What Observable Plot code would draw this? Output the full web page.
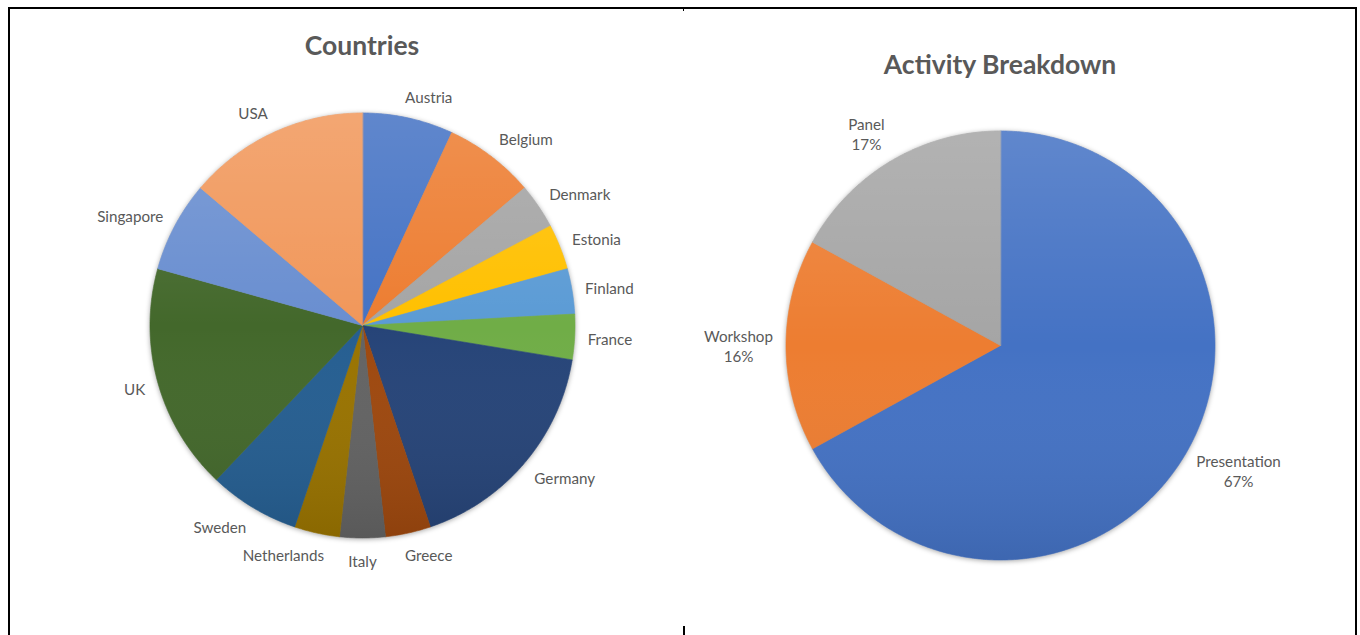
<!DOCTYPE html>
<html>
<head>
<meta charset="utf-8">
<script src="https://cdn.jsdelivr.net/npm/d3@7"></script>
<script src="https://cdn.jsdelivr.net/npm/@observablehq/plot@0.6"></script>
<style>
  body { margin: 0; background: #fff; }
  #wrap { position: relative; width: 1360px; height: 635px; overflow: hidden; background: #fff; font-family: Lato, "Open Sans", sans-serif; }
  .line { position: absolute; background: #000; }
  .title { position: absolute; width: 400px; text-align: center; font-weight: bold; font-size: 26.5px; line-height: 30px; color: #595959; font-family: Lato, sans-serif; }
  .chart { position: absolute; top: 80px; width: 680px; height: 555px; }
  .chart svg { display: block; }
</style>
</head>
<body>
<div id="wrap">
  <div class="line" style="left:8px;top:7px;width:1349px;height:2px"></div>
  <div class="line" style="left:8px;top:7px;width:2px;height:628px"></div>
  <div class="line" style="left:1355px;top:7px;width:2px;height:628px"></div>
  <div class="line" style="left:683px;top:9px;width:1px;height:2px"></div>
  <div class="line" style="left:683px;top:626px;width:2px;height:9px"></div>
  <div id="t1" class="title"></div>
  <div id="t2" class="title"></div>
  <div id="c1" class="chart" style="left:0px"></div>
  <div id="c2" class="chart" style="left:680px"></div>
</div>
<script>
// ---- data ----
const countryTitle = "Countries";
const countries = ["Austria", "Belgium", "Denmark", "Estonia", "Finland", "France", "Germany",
                   "Greece", "Italy", "Netherlands", "Sweden", "UK", "Singapore", "USA"];
const countryCounts = [2, 2, 1, 1, 1, 1, 5, 1, 1, 1, 2, 5, 2, 4];
const countryColors = ["#4472C4", "#ED7D31", "#A5A5A5", "#FFC000", "#5B9BD5", "#70AD47", "#264478",
                       "#9E480E", "#636363", "#997300", "#255E91", "#43682B", "#698ED0", "#F1975A"];

const activityTitle = "Activity Breakdown";
const activities = ["Presentation", "Workshop", "Panel"];
const activityShares = [67, 16, 17];
const activityColors = ["#4472C4", "#ED7D31", "#A5A5A5"];

// ---- helpers ----
const FS = 15.2;
const FONT = "Lato";
const ctx = document.createElement("canvas").getContext("2d");
ctx.font = `${FS}px ${FONT}`;

function pieSlices(names, values) {
  const total = d3.sum(values);
  let acc = 0;
  return names.map((name, i) => {
    const a0 = acc / total * 2 * Math.PI;
    acc += values[i];
    const a1 = acc / total * 2 * Math.PI;
    return {name, value: values[i], a0, a1, mid: (a0 + a1) / 2};
  });
}
function sliceFeature(s, R) {
  const pts = [[0, 0]];
  const n = Math.max(2, Math.ceil((s.a1 - s.a0) / (Math.PI / 360)));
  for (let k = 0; k <= n; k++) {
    const a = s.a0 + (s.a1 - s.a0) * k / n;
    pts.push([R * Math.sin(a), -R * Math.cos(a)]);
  }
  pts.push([0, 0]);
  return {type: "Feature", properties: {name: s.name}, geometry: {type: "Polygon", coordinates: [pts]}};
}
function circleFeature(R) {
  const pts = d3.range(0, 361, 1).map(d => [R * Math.sin(d * Math.PI / 180), -R * Math.cos(d * Math.PI / 180)]);
  return {type: "Feature", properties: {}, geometry: {type: "Polygon", coordinates: [pts]}};
}
function labelDatum(s, text, labelR) {
  const lines = text.split("\n");
  const w = d3.max(lines, t => ctx.measureText(t).width);
  const h = lines.length * FS * 1.2;
  const sx = Math.sin(s.mid), cy = Math.cos(s.mid);
  const fx = Math.max(-1, Math.min(1, 3.5 * sx));
  return {x: labelR * sx + w / 2 * fx, y: -labelR * cy - h / 2 * cy, text};
}

function drawPie({el, titleEl, title, titleLeft, titleTop, names, values, colors, labelText, cx, cy, R, id}) {
  const W = 680, H = 555;
  const slices = pieSlices(names, values);
  const features = slices.map(s => sliceFeature(s, R));
  const labels = slices.map((s, i) => labelDatum(s, labelText(s, i), R + 13));
  const domain = {type: "Polygon", coordinates: [[[-cx, -cy], [W - cx, -cy], [W - cx, H - cy], [-cx, H - cy], [-cx, -cy]]]};

  const svg = Plot.plot({
    width: W, height: H, margin: 0,
    projection: {type: "identity", domain},
    color: {domain: names, range: colors},
    marks: [
      Plot.geo(features, {fill: d => d.properties.name, stroke: d => d.properties.name, strokeWidth: 0.6}),
      Plot.geo([circleFeature(R)], {fill: `url(#${id})`, stroke: "none"}),
      Plot.text(labels, {x: "x", y: "y", text: "text", fill: "#595959", fontSize: FS, fontFamily: FONT,
                         textAnchor: "middle", lineAnchor: "middle", lineHeight: 1.32})
    ]
  });
  const s = d3.select(svg);
  const defs = s.insert("defs", ":first-child");
  const lg = defs.append("linearGradient").attr("id", id).attr("x1", 0).attr("y1", 0).attr("x2", 0).attr("y2", 1);
  lg.append("stop").attr("offset", 0).attr("stop-color", "#fff").attr("stop-opacity", 0.15);
  lg.append("stop").attr("offset", 0.5).attr("stop-color", "#fff").attr("stop-opacity", 0.0);
  lg.append("stop").attr("offset", 1).attr("stop-color", "#000").attr("stop-opacity", 0.1);
  s.select('g[aria-label="geo"]').style("filter", "drop-shadow(0px 1px 2.5px rgba(0,0,0,0.35))");
  el.appendChild(svg);

  titleEl.textContent = title;
  titleEl.style.left = titleLeft + "px";
  titleEl.style.top = titleTop + "px";
}

drawPie({
  el: document.getElementById("c1"), titleEl: document.getElementById("t1"),
  title: countryTitle, titleLeft: 362 - 200, titleTop: 30,
  names: countries, values: countryCounts, colors: countryColors,
  labelText: s => s.name,
  cx: 362, cy: 245, R: 212.5, id: "shadeL"
});
drawPie({
  el: document.getElementById("c2"), titleEl: document.getElementById("t2"),
  title: activityTitle, titleLeft: 1000 - 200, titleTop: 49,
  names: activities, values: activityShares, colors: activityColors,
  labelText: (s, i) => `${s.name}\n${activityShares[i]}%`,
  cx: 320, cy: 265, R: 214.5, id: "shadeR"
});
</script>
</body>
</html>
